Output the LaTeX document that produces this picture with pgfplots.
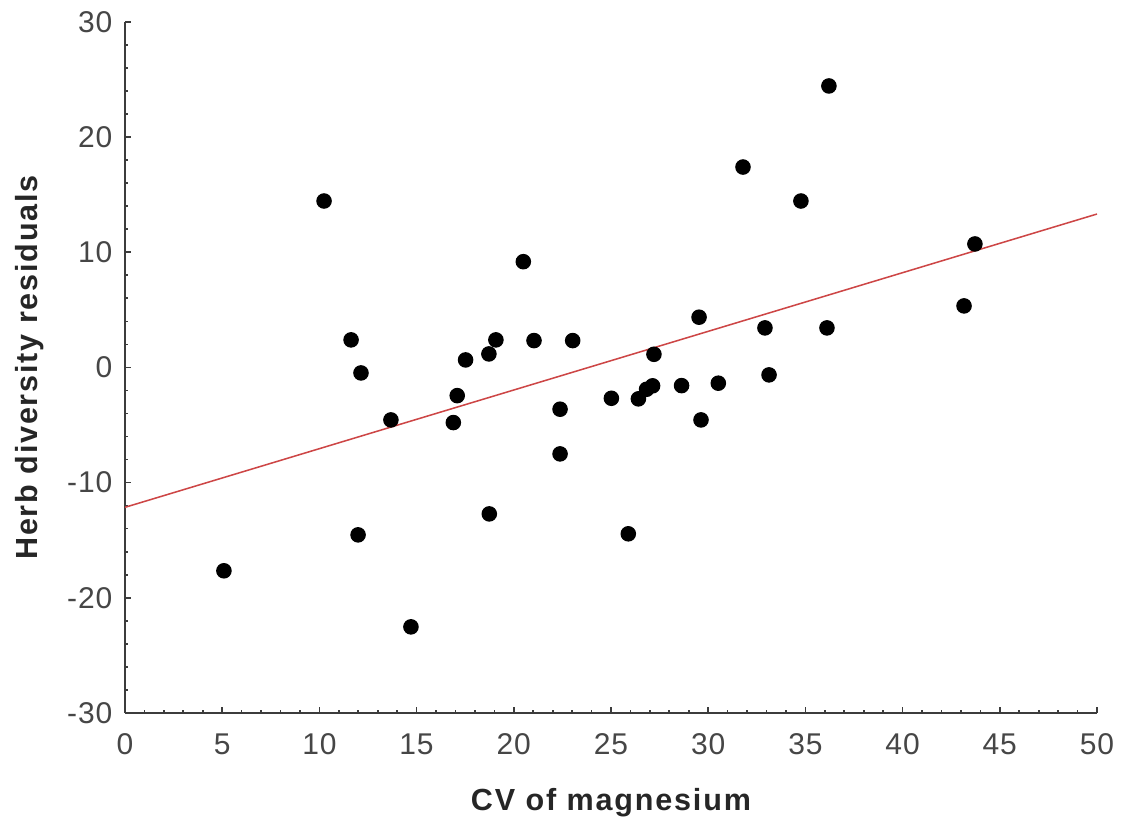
\documentclass[border=0pt]{standalone}
\usepackage{fontspec}
\setmainfont{Liberation Sans}
\usepackage{pgfplots}
\pgfplotsset{compat=1.18}
\definecolor{axgray}{RGB}{60,60,60}
\definecolor{lblgray}{RGB}{70,70,70}
\definecolor{fitred}{RGB}{205,70,70}
\begin{document}
\begin{tikzpicture}
\begin{axis}[
  scale only axis,
  width=350pt, height=248.8pt,
  xmin=0, xmax=50, ymin=-30, ymax=30,
  axis x line=bottom, axis y line=left,
  axis line style={-, axgray, line width=0.7pt},
  xtick={0,5,...,50}, ytick={-30,-20,...,30},
  minor x tick num=4, minor y tick num=4,
  tick align=inside,
  major tick length=2pt, minor tick length=1.1pt,
  tick style={axgray, line width=0.6pt},
  /pgf/number format/assume math mode=true,
  ticklabel style={font=\fontsize{10.8}{12}\selectfont\addfontfeature{LetterSpace=3}, text=lblgray},
  xticklabel style={yshift=-4pt},
  yticklabel style={xshift=-1pt},
  xlabel={CV of magnesium},
  ylabel={Herb diversity residuals},
  label style={font=\fontsize{11}{13}\selectfont\bfseries\addfontfeature{LetterSpace=6}, text=black!85},
  xlabel style={yshift=-5pt},
  ylabel style={yshift=1.5pt},
  clip=false,
]
\addplot[only marks, mark=*, mark size=2.6pt, black] coordinates {
(5.09,-17.66) (10.24,14.45) (11.63,2.39) (12.14,-0.48) (11.99,-14.54)
(13.68,-4.56) (14.71,-22.53) (16.89,-4.79) (17.09,-2.45) (17.52,0.65)
(18.72,1.17) (19.08,2.39) (18.74,-12.72) (20.49,9.18) (21.04,2.33)
(22.38,-3.63) (22.38,-7.51) (23.03,2.33) (25.02,-2.68) (25.89,-14.45)
(26.41,-2.73) (26.83,-1.90) (27.14,-1.60) (27.21,1.14) (28.63,-1.58)
(29.53,4.36) (29.63,-4.56) (30.52,-1.37) (31.79,17.40) (32.92,3.43)
(33.13,-0.65) (34.77,14.45) (36.11,3.43) (36.21,24.44) (43.16,5.34)
(43.72,10.72)
};
\addplot[fitred, line width=0.55pt] coordinates {(0,-12.15) (50,13.32)};
\coordinate (bl) at (rel axis cs:0,0);
\coordinate (tr) at (rel axis cs:1,1);
\end{axis}
\pgfresetboundingbox
\path ([shift={(-45pt,-38.5pt)}]bl) rectangle ([shift={(9pt,7.9pt)}]tr);
\end{tikzpicture}
\end{document}
